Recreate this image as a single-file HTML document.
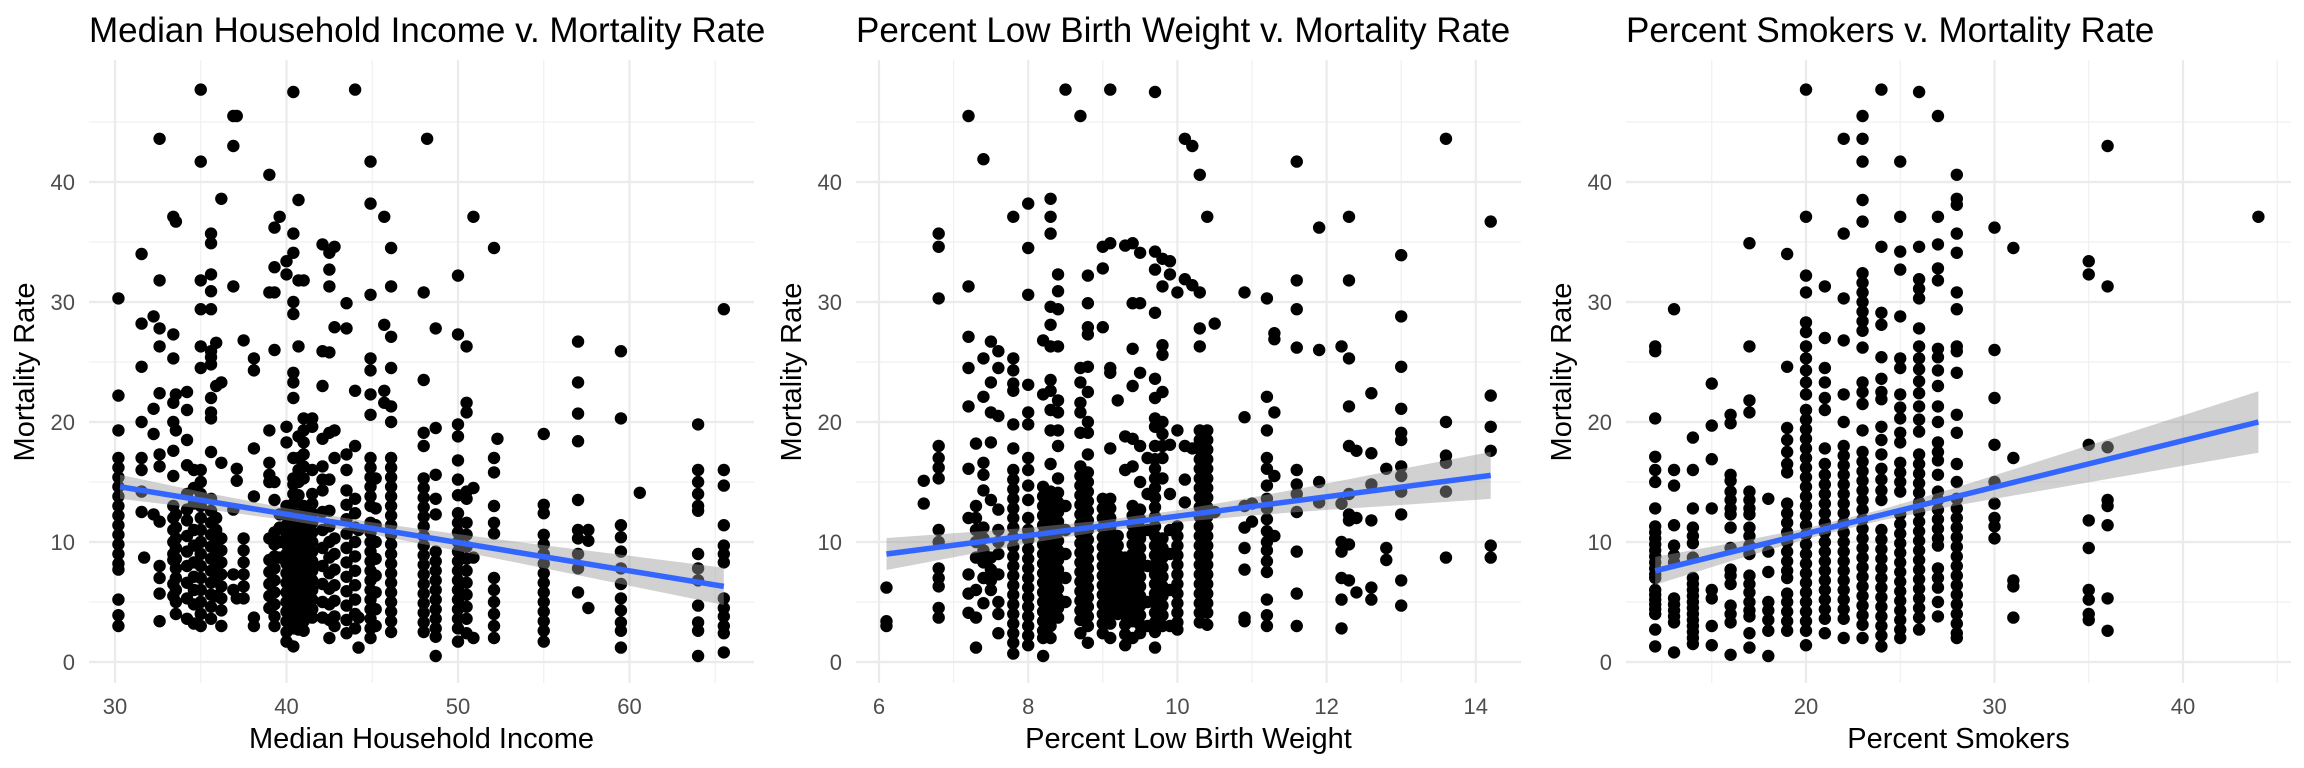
<!DOCTYPE html>
<html><head><meta charset="utf-8"><style>
html,body{margin:0;padding:0;background:#fff;}
svg{display:block;font-family:"Liberation Sans",Arial,sans-serif;}
</style></head><body>
<svg id="chart" width="2304" height="768" viewBox="0 0 2304 768" xmlns="http://www.w3.org/2000/svg"></svg>
<script>
// ---------- Panel 1: Median Household Income ----------
const incomeX = [30.2,31.55,31.7,32.25,32.6,33.4,33.55,34.2,34.6,35.0,35.6,35.9,36.2,36.9,37.1,37.5,38.1,39.0,39.3,39.6,40.0,40.4,40.7,41.0,41.5,42.1,42.5,42.8,43.5,44.0,44.2,44.9,45.2,45.7,46.1,48.0,48.2,48.7,50.0,50.5,50.9,52.1,52.3,55.0,57.0,57.6,59.5,60.6,64.0,65.5];
const incomeY = [
[30.3,22.2,19.3,17,16.2,15.4,14.6,13.8,13,12.2,11.4,10.6,9.8,9,8.2,7.7,5.2,3.9,3],
[34,28.2,24.6,20,17,16,14.2,12.5],
[8.7],
[28.8,21.1,19,12.3],
[43.6,31.8,27.8,26.3,22.4,17.3,16.3,11.7,8,7,5.7,3.4],
[37.1,27.3,25.3,21.6,20,17.6,15.5,13,12,11,10,9,8.5,6.5,5.5],
[36.7,22.3,19.3,12.3,11.2,10.3,9.5,8.6,7.8,7,6,5,4],
[22.5,21,18.5,16.4,14,12.7,11.8,10.5,9.2,8,6.6,5.3,3.6],
[16,14.5,13.2,11,9.7,8.3,7.1,6,4.8,3.2],
[47.7,41.7,31.8,29.4,26.3,24.5,16,15,14,13,12,11,10,9,8,7,6,5,4,3],
[35.7,34.9,32.3,30.9,29.4,25.9,25.4,24.8,22,20.8,20.3,17.5,13.6,12.6,11.6,10.6,9.6,8.6,7.6,6.6,5.6,4.6,3.6],
[26.6,23,12,11,10,9,8,7,5.5],
[38.6,23.3,16.6,10.3,9.3,8.3,7.3,6.3,5.3,4.3,3],
[45.5,43,31.3,12.7,7.3,6],
[45.5,16.1,15.1,5.3],
[26.8,10.3,9.3,8.3,7.3,6.3,5.3],
[25.3,24.3,17.8,13.8,3.7,3],
[40.6,30.8,19.3,16.6,15.6,15,10.3,8.5,7.5,6.5,5.5,4.5],
[36.2,32.9,30.8,26,15,13.5,10.8,9.8,8.8,7.8,6.8,5.8,4.8,3.8,3],
[37.1,12.3,11.2,10,8.7],
[33.4,32.3,19.6,18.3,13,12.2,11.4,10.6,9.8,9,8.2,7.4,6.6,5.8,5,4.2,3.4,2.5,1.7],
[47.5,35.7,34.1,30,29,24.1,23.3,22,17,15.3,14.8,14,13.2,12.4,11.6,10.8,10,9.2,8.4,7.6,6.8,6,5.2,4.4,3.6,2.8,1.3],
[38.5,31.8,26.3,18.8,17,16,15,13.9,12.3,11.5,10.7,9.9,9.1,8.3,7.5,6.7,5.9,5.1,4.3,3.5,2.7],
[31.8,20.3,19.3,18.3,17.3,16.3,15.3,13,12.2,11.4,10.6,9.8,9,8.2,7.4,6.6,5.8,5,4.2,3.4,2.6],
[20.3,19.6,16,14,13.2,12.4,11.6,10.8,10,9.2,8.4,7.6,6.8,6,5.2,4.4,3.7],
[34.8,25.9,23,18.6,16.3,15.2,14.3,12.5,11,9.5,8,6.5,5,3.7],
[34.1,32.7,31.3,25.8,19.1,15.2,12.6,11.3,10,8.7,7.4,6.1,4.8,3.5,2],
[34.6,27.9,19.3,17,10.3,9,7.7,6.4,5.1,3.8,3],
[29.9,27.8,17.3,16,14.3,13.1,11.9,10.7,9.5,8.3,7.1,5.9,4.7,3.5,2.4],
[47.7,22.6,18,13.6,12.4,11.2,10,8.8,7.6,6.4,5.2,4,2.8],
[11,3.7,1.2],
[41.7,38.2,30.6,25.3,24.3,22.3,20.6,17,16.2,15.4,14.6,13.8,13,11.6,10.8,10,9.2,8.4,7.6,6.8,6,5.2,4.4,3.6,2.8,2],
[15.3,12.8,11.4,10,8.6,7.2,5.8,4.4,3],
[37.1,28.1,22.6,21.6],
[34.5,31.3,27.1,24.5,21.3,20,17,16.2,15.4,14.6,13.8,13,12.2,11.4,10.6,9.8,9,8.2,7.4,6.6,5.8,5,4.2,3.4,2.5],
[30.8,23.5,19.1,18,15.3,14.5,13.7,12.9,12.1,11.3,10.5,9.7,8.9,8.1,7.3,6.5,5.7,4.9,4.1,3.3,2.5],
[43.6],
[27.8,19.5,15.6,13.6,12.3,9.2,8.4,7.6,6.8,6,5.2,4.4,3.6,2.8,2.1,0.5],
[32.2,27.3,19.8,18.8,16.8,15.2,13.9,12.4,11.6,10.8,10,9.2,8.4,7.6,6.8,6,5.2,4.4,3.6,2.8,1.7],
[26.3,21.6,20.8,14.2,13.6,11.6,10.6,9.6,8.6,7.6,6.6,5.6,4.6,3.6,2.4],
[37.1,14.5,8.7,2],
[34.5,17,15.8,13,11.6,10.7,7,6,5,4,3,2],
[18.6],
[19,13.1,12.4,10.6,9.8,9,8.2,7.4,6.6,5.8,5,4.2,3.4,2.6,1.7],
[26.7,23.3,20.7,18.4,13.5,11,10.3,9,7.8,5.8],
[11,10.1,4.5],
[25.9,20.3,11.4,10.4,9.2,7.8,6.5,5.3,4.3,3.3,2.6,1.2],
[14.1],
[19.8,16,15,14,13,12.6,9,7.8,6.8,4.7,3.3,2.6,0.5],
[29.4,16,14.7,11.4,9.7,9,8.3,5.3,4.5,3.8,3,2.4,0.8]
];
const incomeFitX = [30.3,65.5];
const incomeFitY = [14.6,6.3];
const incomeBandX = [30.3,35,40,45,50,55,60,65.5];
const incomeBandHalf = [1.0,0.7,0.5,0.5,0.7,0.95,1.25,1.55];
const incomeTicks = [30,40,50,60];

// ---------- Panel 2: Percent Low Birth Weight ----------
const lbwX = [6.1,6.6,6.8,7.2,7.3,7.4,7.5,7.6,7.8,8.0,8.2,8.3,8.4,8.5,8.7,8.8,9.0,9.1,9.2,9.3,9.4,9.5,9.6,9.7,9.8,9.9,10.0,10.1,10.2,10.3,10.4,10.5,10.9,11.0,11.2,11.3,11.6,11.9,12.2,12.3,12.4,12.6,12.8,13.0,13.6,14.2];
const lbwY = [
[6.2,3.4,3.0],
[15.1,13.2],
[35.7,34.6,30.3,18,17,16.2,15.3,11,10,7.8,7,6.3,4.5,3.7],
[45.5,31.3,27.1,24.5,21.3,16.1,12,7.3,5.7,4.1],
[18.2,13,12,11,10,8.7,6,3.7,1.2],
[41.9,25.3,22.1,16.6,15.6,14.3,11.2,10.3,9.3,8.3,7,4.9],
[26.7,23.3,20.8,18.3,13.5,8.7,7.7,6.8,6],
[25.9,24.5,20.5,12.7,11,10,9,7.3,5,4,2.4],
[37.1,25.3,24.3,23.2,22.6,19.8,17.8,16,15.2,14.4,13.6,12.8,12,11.2,10.4,9.6,8.8,8,7.2,6.4,5.6,4.8,4,3.2,2.4,1.6,0.7],
[38.2,34.5,30.6,23.1,20.8,19.8,17,16,14.7,13.5,12,11,10.2,9.4,8.6,7.8,7,6.2,5.4,4.6,3.8,3,2.2,1.4],
[26.8,22.3,14.6,13.8,13,12.2,11.4,10.6,9.8,9,8.2,7.4,6.6,5.8,5,4.2,3.4,2.6,2,0.5],
[38.6,37.1,35.7,29.6,28.1,26.3,23.5,22.6,21,19.3,16.5,14.2,13.4,12.6,11.8,11,10.2,9.4,8.6,7.8,7,6.2,5.4,4.6,3.8,3,2],
[32.3,30.9,29.4,26.3,21.8,20.8,19.3,18,15.3,14.1,13.3,12.5,11.7,10.9,10.1,9.3,8.5,7.7,6.9,6.1,5.3,4.5,3.7],
[47.7,13,11,9,7,5],
[45.5,24.5,23.3,21.6,20.8,19.1,16.3,15.5,14.7,13.9,13.1,12.3,11.5,10.7,9.9,9.1,8.3,7.5,6.7,5.9,5.1,4.3,3.5,2.4],
[32.2,29.9,27.9,27.3,24.6,22.5,20,19.1,17.3,15.8,15,14.2,13.4,12.6,11.8,11,10.2,9.4,8.6,7.8,7,6.2,5.4,4.6,3.8,3,1.6],
[34.6,32.8,27.9,13.6,12.8,12,11.2,10.4,9.6,8.8,8,7.2,6.4,5.6,4.8,4,3.2,2.4],
[47.7,34.9,24.5,24.1,17.8,13.6,12.8,12,11.2,10.4,9.6,8.8,8,7.2,6.4,5.6,4.8,4,3.2,2],
[21.8,10.5,9.7,8.9,8.1,7.3,6.5,5.7,4.9,4],
[34.7,18.8,16,8.7,7.9,7.1,6.3,5.5,4.7,3.9,3.1,2.3,1.4],
[34.9,29.9,26.1,23,18.6,16.3,13,12.2,11.4,10.6,9.8,9,8.2,7.4,6.6,5.8,5,4.2,3.4,2],
[34.1,29.9,24.1,18,15,12.7,11.9,11.1,10.3,9.5,8.7,7.9,7.1,6.3,5.5,4.7,3.9,3.1,2.4],
[17,14,11,8,5,3],
[47.5,34.2,32.7,29.1,23.6,22,20.3,19.6,18,16.9,16.1,15.3,14.5,13.7,12.9,12.1,11.3,10.5,9.7,8.9,8.1,7.3,6.5,5.7,4.9,4.1,3.3,2.5,1.2],
[33.6,31.3,26.4,25.6,22.5,20,19,18,17,15.3,10.3,9.5,8.7,7.9,7.1,6.3,5.5,4.7,3.9,3],
[33.4,32.3,18.1,14,11,9,6,3],
[30.8,19.3,11.3,10.5,9.7,8.9,8.1,7.3,6.5,5.7,4.9,4.1,3.3,2.7],
[43.6,31.9,18,15.2,13.3],
[43,31.4,17.8],
[40.6,30.8,27.8,26.3,19.3,18.5,17.7,16.9,16.1,15.3,14.5,13.7,12.9,12.1,11.3,10.5,9.7,8.9,8.1,7.3,6.5,5.7,4.9,4.1,3.3],
[37.1,19.3,18.5,17.7,16.9,16.1,15.3,14.5,13.7,12.9,12.1,11.3,10.5,9.7,8.9,8.1,7.3,6.5,5.7,4.9,4.1,3.1],
[28.2,12.5],
[30.8,20.4,13,11.2,9.5,7.7,3.7,3.4],
[13.2,11.7],
[30.3,22.1,19.3,17,16.1,14.7,13.6,12.8,11.9,10.9,10,9.3,8.4,7.5,5.2,3.9,3],
[27.4,26.9,20.8,15.5,10.5],
[41.7,31.8,29.4,26.2,16,14.8,14,12.5,9.2,5.7,3],
[36.2,26,15,13.3],
[26.3,13.2,10,9.2,7,5.2,2.8],
[37.1,31.8,25.3,21.3,18,14,12.3,11.8,9.8,6.8],
[17.6,12,5.8],
[22.4,17.4,14.8,11.8,6.2,5.2],
[16.1,9.5,8.5],
[33.9,28.8,24.6,21.1,19.1,18.5,16.3,15.5,14.2,12.3,6.8,4.7],
[43.6,20,17.2,16.6,14.2,8.7],
[36.7,22.2,19.6,17.6,9.7,8.7]
];
const lbwFitX = [6.1,14.2];
const lbwFitY = [9.0,15.55];
const lbwBandX = [6.1,7,8,9,10,11,12,13,14.2];
const lbwBandHalf = [1.33,1.0,0.65,0.45,0.5,0.75,1.1,1.5,1.96];
const lbwTicks = [6,8,10,12,14];

// ---------- Panel 3: Percent Smokers ----------
const smokeX = [12,13,14,15,16,17,18,19,20,21,22,23,24,25,26,27,28,30,31,35,36,44];
const smokeY = [
[26.3,25.9,20.3,17.1,16,15,12.8,11.3,10.8,10.3,9.8,9.3,8.8,8.3,7.8,7.3,7,6,5.6,5.2,4.8,4.4,4,2.7,1.3],
[29.4,16,14.7,11.4,9.7,8.9,8.3,5.3,4.8,4.3,3.8,3.3,0.8],
[18.7,16,12.8,11.2,10.5,9.9,8.7,7,6.5,6,5.5,5,4.5,4,3.5,3,2.5,2,1.5],
[23.2,19.7,16.9,12.8,6,5.3,3,1.4],
[20.6,19.9,15.6,15.1,14.2,13.5,12.8,12.3,11.2,9.5,7.7,7.2,6.5,4.7,4,3.3,0.6],
[34.9,26.3,21.8,20.8,14.2,13.5,12.8,12.3,11.2,10.5,9.7,9,7.2,6.5,5.8,5,4.3,3.8,2.4,1.2],
[13.6,9.2,7.5,5,4.3,3.5,2.6,0.5],
[34,24.6,19.5,18.5,17.5,16.5,15.8,13.2,12.4,11.6,10.8,10,9.2,8.4,7.6,7,5.7,5,4.2,3.4,2.6],
[47.7,37.1,32.2,30.8,28.3,27.5,26.3,25.3,24.3,23.3,22.3,21,20.2,19.4,18.6,17.8,17,16.2,15.4,14.6,13.8,13,12.2,11.4,10.6,9.8,9,8.2,7.4,6.6,5.8,5,4.2,3.4,2.6,1.4],
[31.3,27,24.5,23.3,22,21,17.8,16.5,15.6,14.8,14,13.2,12.4,11.6,10.8,10,9.2,8.4,7.6,6.8,6,5.2,4.4,3.6,2.4],
[43.6,35.7,30.3,26.8,22.3,20,18,17.2,16.4,15.6,14.8,14,13.2,12.4,11.6,10.8,10,9.2,8.4,7.6,6.8,6,5.2,4.4,3.6,2],
[45.5,43.6,41.7,38.5,36.7,32.4,31.6,30.8,30,29.2,28.4,27.6,26.2,23.3,22.5,21.5,19.3,17.5,16.7,15.9,15.1,14.3,13.5,12.7,11.9,11.1,10.3,9.5,8.7,7.9,7.1,6.3,5.5,4.7,3.9,3.1,2],
[47.7,34.6,29.1,28.1,25.4,23.6,22.5,21.9,19.6,18.5,17.3,16.1,15.2,14.3,13.5,11,10.2,9.4,8.6,7.8,7,6.2,5.4,4.6,3.8,3,2.2,1.3],
[41.7,37.1,34.2,32.7,28.8,25.3,24.5,22.3,21.2,20.3,19.1,18.3,16.6,15.8,15,14.2,12.3,11.5,10.7,9.9,9.1,8.3,7.5,6.7,5.9,5.1,4.3,3.5,2.7,2],
[47.5,34.6,31.9,31.1,30.3,27.8,26.3,25.3,24.4,23.4,22.4,21.3,20.2,19.2,17.3,16.5,15.7,14.9,14.1,13.3,12.5,11.7,10.9,10.1,9.3,8.5,7.7,6.9,6.1,5.3,4.5,3.7,2.7],
[45.5,37.1,34.8,32.8,31.8,26.1,25.4,24.3,23,21.3,20,18.3,17.5,16.8,15.6,14.2,13.5,12.7,11.9,11.1,10.3,9.7,7.8,7,6.2,5,3.8],
[40.6,38.6,38.1,35.7,34.1,30.8,29.4,26.3,25.9,24.1,20.6,19.1,16.5,15,13.6,12.8,12,11.2,10.4,9.6,8.8,8,7.2,6.4,5.6,4.8,4,3.2,2.4,2],
[36.2,26,22,18.1,15,13.2,12,11.3,10.3],
[34.5,17,6.8,6.3,3.7],
[33.4,32.3,18.1,11.8,9.5,6,5.2,4,3.5],
[43,31.3,17.9,13.5,13,11.4,5.3,2.6],
[37.1]
];
const smokeFitX = [12,44];
const smokeFitY = [7.6,20.0];
const smokeBandX = [12,16,20,24,28,32,36,40,44];
const smokeBandHalf = [1.16,0.75,0.45,0.45,0.75,1.2,1.65,2.1,2.57];
const smokeTicks = [20,30,40];

const yTicks = [0,10,20,30,40];
const titles = ["Median Household Income v. Mortality Rate","Percent Low Birth Weight v. Mortality Rate","Percent Smokers v. Mortality Rate"];
const xTitles = ["Median Household Income","Percent Low Birth Weight","Percent Smokers"];

// ---------- drawing ----------
const NS = "http://www.w3.org/2000/svg";
const svg = document.getElementById("chart");
function mk(tag, attrs, parent){
  const e = document.createElementNS(NS, tag);
  for (const k in attrs) e.setAttribute(k, attrs[k]);
  (parent||svg).appendChild(e);
  return e;
}
const PTOP = 60, PBOT = 683;
function yScale(v){ return 662 - v*12.0; }

const panels = [
  {key:"income", left:89, x0:30, px0:115, ppu:17.15, minor:[35,45,55,65], ticks:incomeTicks, X:incomeX, Y:incomeY, fx:incomeFitX, fy:incomeFitY, bx:incomeBandX, bh:incomeBandHalf},
  {key:"birth-weight", left:856, x0:6, px0:879, ppu:74.6, minor:[7,9,11,13], ticks:lbwTicks, X:lbwX, Y:lbwY, fx:lbwFitX, fy:lbwFitY, bx:lbwBandX, bh:lbwBandHalf},
  {key:"smokers", left:1626, x0:20, px0:1806, ppu:18.85, minor:[15,25,35,45], ticks:smokeTicks, X:smokeX, Y:smokeY, fx:smokeFitX, fy:smokeFitY, bx:smokeBandX, bh:smokeBandHalf}
];

panels.forEach((p, i) => {
  const W = 665;
  const xs = v => p.px0 + (v - p.x0) * p.ppu;
  const g = mk("g", {});
  
  

  for (let v = 5; v <= 45; v += 10) {
    const l = mk("line", {x1:p.left, x2:p.left+W, y1:yScale(v), y2:yScale(v), stroke:"#f0f0f0", "stroke-width":1.2}, g);
    
    
  }
  p.minor.forEach(v => {
    const l = mk("line", {x1:xs(v), x2:xs(v), y1:PTOP, y2:PBOT, stroke:"#f0f0f0", "stroke-width":1.2}, g);
    
    
  });
  yTicks.forEach(v => {
    const l = mk("line", {x1:p.left, x2:p.left+W, y1:yScale(v), y2:yScale(v), stroke:"#ebebeb", "stroke-width":2.2}, g);
    
    
    const t = mk("text", {x:p.left-14, y:yScale(v)+8, "text-anchor":"end", "font-size":22, fill:"#4d4d4d"}, g);
    
    
    t.textContent = v;
  });
  p.ticks.forEach(v => {
    const l = mk("line", {x1:xs(v), x2:xs(v), y1:PTOP, y2:PBOT, stroke:"#ebebeb", "stroke-width":2.2}, g);
    
    
    const t = mk("text", {x:xs(v), y:714, "text-anchor":"middle", "font-size":22, fill:"#4d4d4d"}, g);
    
    
    t.textContent = v;
  });

  p.X.forEach((xv, ci) => {
    p.Y[ci].forEach(yv => {
      const c = mk("circle", {cx:xs(xv), cy:yScale(yv), r:6.2, fill:"#000"}, g);
      
      
    });
  });

  const slope = (p.fy[1]-p.fy[0])/(p.fx[1]-p.fx[0]);
  const fit = v => p.fy[0] + slope*(v - p.fx[0]);
  let up = [], lo = [];
  p.bx.forEach((bv, k) => {
    up.push(xs(bv).toFixed(1)+","+yScale(fit(bv)+p.bh[k]).toFixed(1));
    lo.unshift(xs(bv).toFixed(1)+","+yScale(fit(bv)-p.bh[k]).toFixed(1));
  });
  const band = mk("polygon", {points: up.concat(lo).join(" "), fill:"#999999", "fill-opacity":0.45}, g);
  
  
  const line = mk("line", {x1:xs(p.fx[0]), y1:yScale(p.fy[0]), x2:xs(p.fx[1]), y2:yScale(p.fy[1]), stroke:"#3366FF", "stroke-width":5.5}, g);
  
  

  const tt = mk("text", {x:p.left, y:42, "font-size":35, fill:"#000"}, g);
  
  
  tt.textContent = titles[i];
  const xt = mk("text", {x:p.left+W/2, y:748, "text-anchor":"middle", "font-size":29, fill:"#000"}, g);
  
  
  xt.textContent = xTitles[i];
  const yx = p.left - 55, yy = 372;
  const yt = mk("text", {x:yx, y:yy, "text-anchor":"middle", "font-size":29, fill:"#000", transform:"rotate(-90 "+yx+" "+yy+")"}, g);
  
  
  yt.textContent = "Mortality Rate";
});
</script>
</body></html>
